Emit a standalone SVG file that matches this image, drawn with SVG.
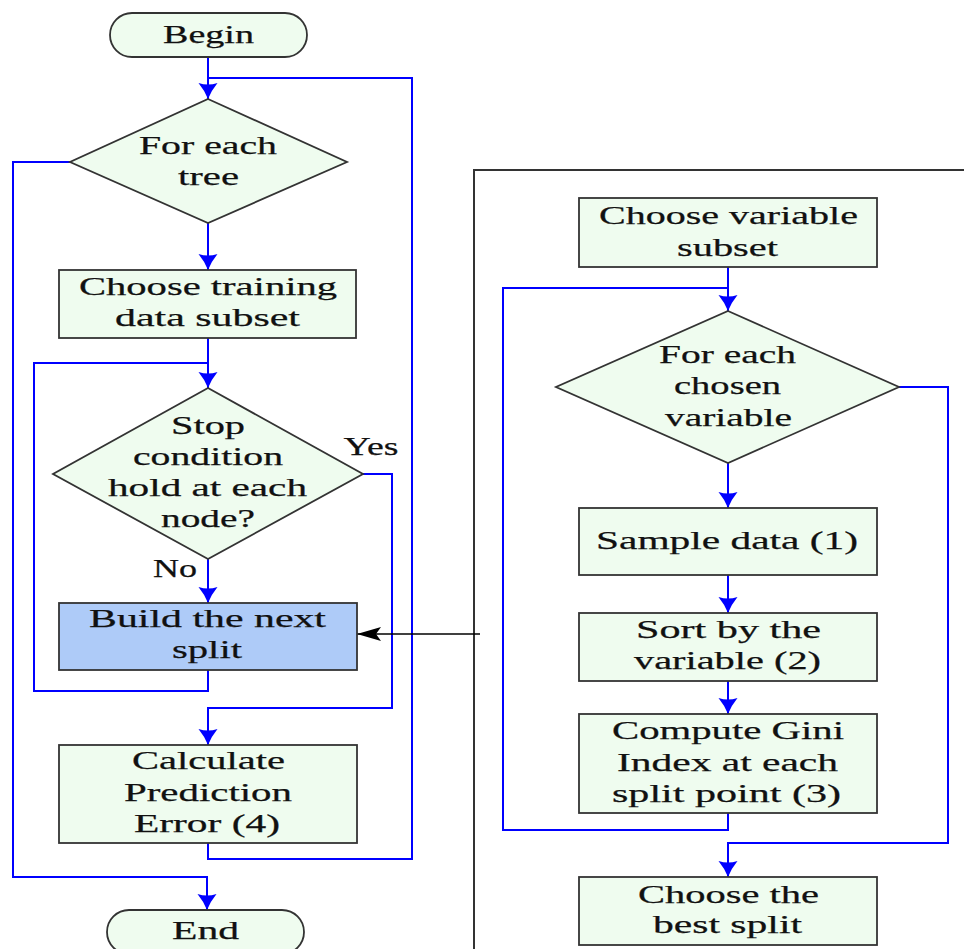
<svg xmlns="http://www.w3.org/2000/svg" width="964" height="949" viewBox="0 0 964 949">
<style>
.n{fill:#effcef;stroke:#333;stroke-width:1.8}
.b{fill:#aecbf8;stroke:#333;stroke-width:1.8}
.c{fill:none;stroke:#0000ff;stroke-width:2}
.k{fill:none;stroke:#000;stroke-width:1.4}
text{font-family:"Liberation Serif","Times New Roman",serif;font-size:26px;fill:#111;stroke:#111;stroke-width:0.25;text-anchor:middle}
</style>
<defs>
<marker id="ab" viewBox="0 0 16 20" refX="16" refY="10" markerWidth="16" markerHeight="20" orient="auto" markerUnits="userSpaceOnUse">
<path d="M0,0.5 Q8,7 16,10 Q8,13 0,19.5 Q3,10 0,0.5 z" fill="#0000ff"/>
</marker>
<marker id="ak" viewBox="0 0 24 14" refX="24" refY="7" markerWidth="24" markerHeight="14" orient="auto" markerUnits="userSpaceOnUse">
<path d="M0,0 L24,7 L0,14 L5,7 z" fill="#000"/>
</marker>
</defs>
<rect width="964" height="949" fill="#fff"/>
<path d="M474,960 V170 H970" fill="none" stroke="#333" stroke-width="2"/>
<g id="connectors">
<path class="c" d="M208,57 V99" marker-end="url(#ab)"/>
<path class="c" d="M208,843 V859 H412 V78 H208"/>
<path class="c" d="M208,223 V270" marker-end="url(#ab)"/>
<path class="c" d="M70,162 H13 V877 H207 V910" marker-end="url(#ab)"/>
<path class="c" d="M208,338 V388" marker-end="url(#ab)"/>
<path class="c" d="M208,670 V691 H34 V363 H208"/>
<path class="c" d="M208,559 V603" marker-end="url(#ab)"/>
<path class="c" d="M363,474 H392 V708 H208 V745" marker-end="url(#ab)"/>
<path class="k" d="M480,634 H357" marker-end="url(#ak)"/>
<path class="c" d="M728,267 V311" marker-end="url(#ab)"/>
<path class="c" d="M728,813 V830 H503 V288 H728"/>
<path class="c" d="M728,463 V508" marker-end="url(#ab)"/>
<path class="c" d="M728,575 V613" marker-end="url(#ab)"/>
<path class="c" d="M728,681 V714" marker-end="url(#ab)"/>
<path class="c" d="M899,387 H948 V843 H728 V877" marker-end="url(#ab)"/>
<text x="371" y="455" textLength="55" lengthAdjust="spacingAndGlyphs">Yes</text>
<text x="175" y="577" textLength="44" lengthAdjust="spacingAndGlyphs">No</text>
</g>
<g id="begin">
<rect class="n" x="110" y="13" width="197" height="44" rx="22"/>
<text x="208.5" y="43" textLength="91" lengthAdjust="spacingAndGlyphs">Begin</text>
</g>
<g id="foreachtree">
<polygon class="n" points="208,99 347,162 208,223 70,162"/>
<text x="208" y="154" textLength="138" lengthAdjust="spacingAndGlyphs">For each</text>
<text x="208.5" y="185" textLength="61" lengthAdjust="spacingAndGlyphs">tree</text>
</g>
<g id="choosetraining">
<rect class="n" x="59" y="270" width="297" height="68"/>
<text x="208" y="295" textLength="258" lengthAdjust="spacingAndGlyphs">Choose training</text>
<text x="207.5" y="326" textLength="185" lengthAdjust="spacingAndGlyphs">data subset</text>
</g>
<g id="stop">
<polygon class="n" points="208,388 363,474 208,559 53,474"/>
<text x="208" y="434" textLength="74" lengthAdjust="spacingAndGlyphs">Stop</text>
<text x="208" y="465" textLength="150" lengthAdjust="spacingAndGlyphs">condition</text>
<text x="207.5" y="496" textLength="199" lengthAdjust="spacingAndGlyphs">hold at each</text>
<text x="208" y="527" textLength="94" lengthAdjust="spacingAndGlyphs">node?</text>
</g>
<g id="build">
<rect class="b" x="59" y="603" width="298" height="67"/>
<text x="207.5" y="627" textLength="237" lengthAdjust="spacingAndGlyphs">Build the next</text>
<text x="207" y="658" textLength="70" lengthAdjust="spacingAndGlyphs">split</text>
</g>
<g id="calculate">
<rect class="n" x="59" y="745" width="298" height="98"/>
<text x="208.5" y="769" textLength="153" lengthAdjust="spacingAndGlyphs">Calculate</text>
<text x="208" y="801" textLength="168" lengthAdjust="spacingAndGlyphs">Prediction</text>
<text x="207" y="832" textLength="146" lengthAdjust="spacingAndGlyphs">Error (4)</text>
</g>
<g id="end">
<rect class="n" x="107" y="910" width="197" height="44" rx="22"/>
<text x="205.5" y="939" textLength="67" lengthAdjust="spacingAndGlyphs">End</text>
</g>
<g id="choosevariable">
<rect class="n" x="579" y="198" width="298" height="69"/>
<text x="728.5" y="224" textLength="259" lengthAdjust="spacingAndGlyphs">Choose variable</text>
<text x="727.5" y="256" textLength="101" lengthAdjust="spacingAndGlyphs">subset</text>
</g>
<g id="foreachvariable">
<polygon class="n" points="728,311 899,387 728,463 556,387"/>
<text x="727.5" y="363" textLength="137" lengthAdjust="spacingAndGlyphs">For each</text>
<text x="727.5" y="394" textLength="107" lengthAdjust="spacingAndGlyphs">chosen</text>
<text x="728.5" y="426" textLength="127" lengthAdjust="spacingAndGlyphs">variable</text>
</g>
<g id="sample">
<rect class="n" x="579" y="508" width="298" height="67"/>
<text x="727" y="549" textLength="262" lengthAdjust="spacingAndGlyphs">Sample data (1)</text>
</g>
<g id="sort">
<rect class="n" x="579" y="613" width="298" height="68"/>
<text x="728.5" y="638" textLength="185" lengthAdjust="spacingAndGlyphs">Sort by the</text>
<text x="727.5" y="669" textLength="187" lengthAdjust="spacingAndGlyphs">variable (2)</text>
</g>
<g id="compute">
<rect class="n" x="579" y="714" width="298" height="99"/>
<text x="728" y="739" textLength="232" lengthAdjust="spacingAndGlyphs">Compute Gini</text>
<text x="727.5" y="771" textLength="221" lengthAdjust="spacingAndGlyphs">Index at each</text>
<text x="726.5" y="802" textLength="229" lengthAdjust="spacingAndGlyphs">split point (3)</text>
</g>
<g id="bestsplit">
<rect class="n" x="579" y="877" width="298" height="68"/>
<text x="728.5" y="903" textLength="181" lengthAdjust="spacingAndGlyphs">Choose the</text>
<text x="727.5" y="933" textLength="149" lengthAdjust="spacingAndGlyphs">best split</text>
</g>
</svg>
